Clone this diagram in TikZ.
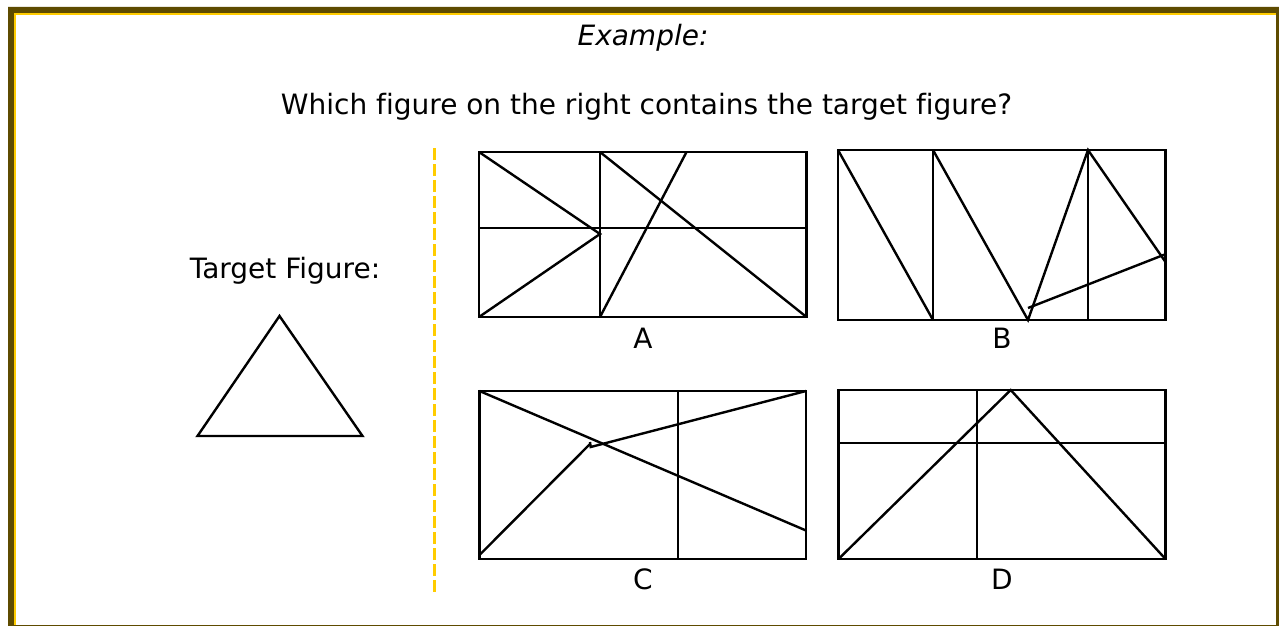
\documentclass[tikz,border=0pt]{standalone}
\usepackage{fontspec}
\setmainfont{DejaVu Sans}[Ligatures={NoCommon}]
\definecolor{framedark}{HTML}{5E4B00}
\definecolor{frameyellow}{HTML}{FFCC00}
\begin{document}
\begin{tikzpicture}[x=1pt,y=-1pt,
  fig/.style={line width=2.4pt, line join=miter, black},
  lbl/.style={font=\fontsize{28}{34}\selectfont, inner sep=0pt, anchor=base}]
\useasboundingbox (0,0) rectangle (1279,626);
\fill[white] (0,0) rectangle (1279,626);
% frame
\fill[framedark, even odd rule] (8,7) rectangle (1279,626) (14,13) rectangle (1276,625);
\fill[frameyellow] (14,13) rectangle (16,625);
\fill[frameyellow] (14,13) rectangle (1276,15);
% texts
\node[lbl, font=\fontsize{28}{34}\selectfont\itshape] (ex) at (643,46) {Example:};
\node[lbl] (q) at (646.5,114) {Which figure on the right contains the target figure?};
\node[lbl] (tf) at (285,278) {Target Figure:};
\node[lbl] (la) at (643,348) {A};
\node[lbl] (lb) at (1002,348) {B};
\node[lbl] (lc) at (643,589) {C};
\node[lbl] (ld) at (1002,589) {D};
% separator
\draw[frameyellow, line width=3pt, dash pattern=on 12pt off 4pt] (434,148) -- (434,594);
% target triangle
\draw[fig] (279.5,316) -- (362.5,436) -- (197.5,436) -- cycle;
% A
\draw[fig] (479,152) rectangle (806.5,317);
\draw[fig] (600,152) -- (600,317);
\draw[fig] (479,228) -- (806.5,228);
\draw[fig] (479,152) -- (600,234) -- (479,317);
\draw[fig] (600,152) -- (806.5,317);
\draw[fig] (686.5,152) -- (600,317);
% B
\draw[fig] (838,150) rectangle (1165.5,320);
\draw[fig] (933,150) -- (933,320);
\draw[fig] (1088,150) -- (1088,320);
\draw[fig] (838,150) -- (933,320);
\draw[fig] (933,150) -- (1028,320) -- (1088,150) -- (1165.5,262);
\draw[fig] (1028,308) -- (1166,254);
% C
\draw[fig] (479.5,391) rectangle (806,559);
\draw[fig] (677.7,391) -- (677.7,559);
\draw[fig] (479.5,391) -- (806,530.5);
\draw[fig] (479.5,555) -- (590,444);
\draw[fig] (590,442) -- (590.7,447) -- (806,391);
% D
\draw[fig] (838.5,390) rectangle (1165.5,559);
\draw[fig] (976.7,390) -- (976.7,559);
\draw[fig] (838.5,442.7) -- (1165.5,442.7);
\draw[fig] (838.5,559) -- (1010.7,390) -- (1165.5,559);
\end{tikzpicture}
\end{document}
